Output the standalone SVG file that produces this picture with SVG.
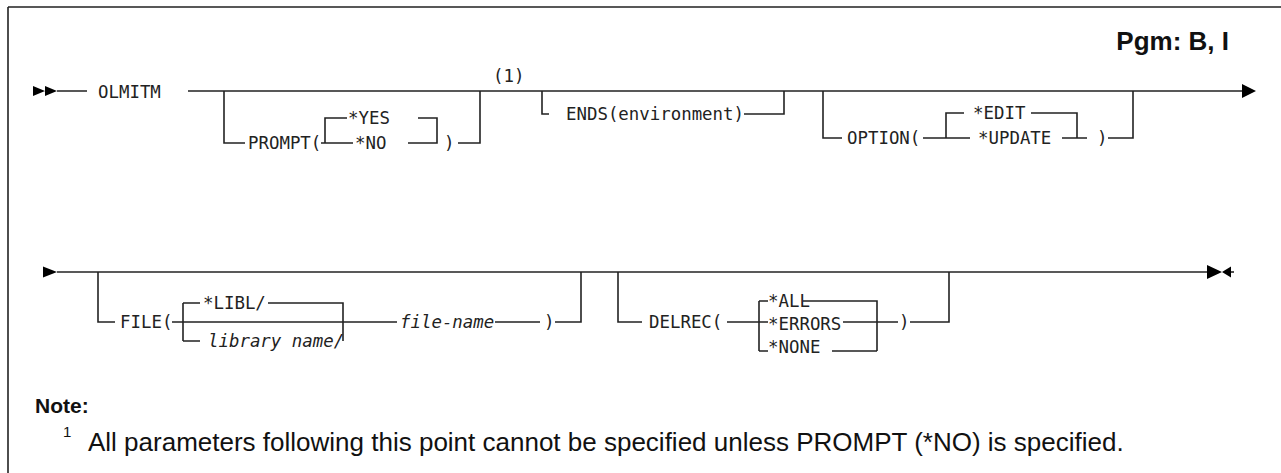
<svg xmlns="http://www.w3.org/2000/svg" width="1281" height="473" viewBox="0 0 1281 473">
<style>
.m{font-family:"DejaVu Sans Mono","Liberation Mono",monospace;font-size:17.4px;fill:#222}
.i{font-style:italic}
.c{fill:none;stroke:#222;stroke-width:1.6}
.h{fill:#000;stroke:none}
.s{font-family:"Liberation Sans",Arial,sans-serif;fill:#111}
</style>
<rect width="1281" height="473" fill="#fff"/>
<path class="c" d="M8 7H1281M8 7V473"/>
<g id="pgm"><text class="s" x="1229" y="50" font-size="26" font-weight="bold" text-anchor="end">Pgm: B, I</text></g>
<g id="connectors">
<path class="c" d="M57 91H87M188 91H1243"/>
<path class="c" d="M224 91V143H245M321 143H353M325 143V118H347M408 143H437V118H418M458 143H480V91"/>
<path class="c" d="M542 91V114H549M744 114H784V91"/>
<path class="c" d="M823 91V138H842M923 138H970M946 138V113H964M1031 113H1077V138M1062 138H1087M1108 138H1133V91"/>
<path class="c" d="M57 272H1208"/>
<path class="c" d="M98 272V322H115M172 322H397M183 303V341M183 303H200M183 341H200M268 303H343V341M495 322H540M555 322H581V272"/>
<path class="c" d="M618 272V322H642M727 322H768M759 301V351M759 301H768M759 351H768M803 301H877V351M832 351H877M843 322H898M910 322H949V272"/>
<path class="c" d="M1231 272H1234"/>
<path class="h" d="M33 86L45 91L33 96ZM45 86L57 91L45 96Z"/>
<path class="h" d="M1242 84L1256 91L1242 98Z"/>
<path class="h" d="M43 266.5L57 272L43 277.5Z"/>
<path class="h" d="M1207 265L1222 272L1207 279ZM1231 266.5L1222 272L1231 277.5Z"/>
</g>
<g id="olmitm"><text class="m" x="98" y="98">OLMITM</text></g>
<g id="prompt">
<text class="m" x="248" y="149">PROMPT(</text>
<text class="m" x="348" y="124">*YES</text>
<text class="m" x="355" y="149">*NO</text>
<text class="m" x="444" y="149">)</text>
</g>
<g id="note-ref"><text class="m" x="493" y="82">(1)</text></g>
<g id="ends"><text class="m" x="566" y="120">ENDS(environment)</text></g>
<g id="option">
<text class="m" x="847" y="144">OPTION(</text>
<text class="m" x="973" y="119">*EDIT</text>
<text class="m" x="978" y="144">*UPDATE</text>
<text class="m" x="1097" y="144">)</text>
</g>
<g id="file">
<text class="m" x="120" y="328">FILE(</text>
<text class="m" x="203" y="309">*LIBL/</text>
<text class="m i" x="208" y="347">library name/</text>
<text class="m i" x="400" y="328">file-name</text>
<text class="m" x="544" y="328">)</text>
</g>
<g id="delrec">
<text class="m" x="649" y="328">DELREC(</text>
<text class="m" x="768" y="307">*ALL</text>
<text class="m" x="768" y="330">*ERRORS</text>
<text class="m" x="768" y="353">*NONE</text>
<text class="m" x="899" y="328">)</text>
</g>
<g id="note">
<text class="s" x="35" y="413" font-size="21" font-weight="bold">Note:</text>
<text class="s" x="63" y="437" font-size="15">1</text>
<text class="s" x="88" y="451" font-size="26">All parameters following this point cannot be specified unless PROMPT (*NO) is specified.</text>
</g>
</svg>
